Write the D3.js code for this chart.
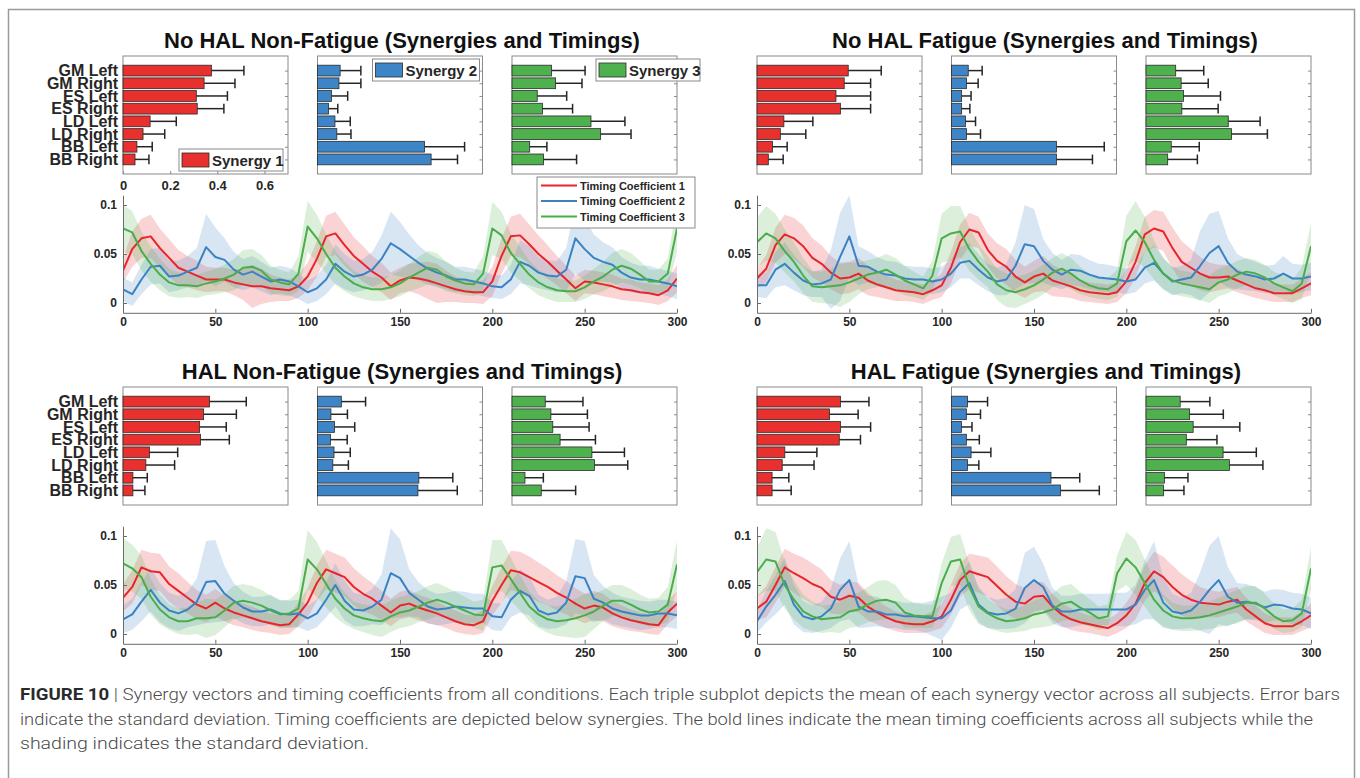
<!DOCTYPE html>
<html>
<head>
<meta charset="utf-8">
<script src="https://cdn.jsdelivr.net/npm/d3@7"></script>
<style>
  body { margin: 0; background: #fff; }
  svg { display: block; font-family: "Liberation Sans", Arial, sans-serif; }
</style>
</head>
<body>
<svg width="1360" height="778"></svg>
<script>
// ---- data ----
const muscles = ['GM Left', 'GM Right', 'ES Left', 'ES Right', 'LD Left', 'LD Right', 'BB Left', 'BB Right'];
const synergyNames = ['Synergy 1', 'Synergy 2', 'Synergy 3'];
const timingNames = ['Timing Coefficient 1', 'Timing Coefficient 2', 'Timing Coefficient 3'];
const barTicks = [0, 0.2, 0.4, 0.6];
const timeTicks = [0, 50, 100, 150, 200, 250, 300];
const coefTicks = [0, 0.05, 0.1];
const timeSteps = d3.range(0, 301, 5);

// synergy vectors, mean and sd, [synergy 1, 2, 3] x muscles
const synMeanNoHalNF = [
  [0.375, 0.344, 0.311, 0.315, 0.115, 0.085, 0.059, 0.051],
  [0.096, 0.091, 0.059, 0.047, 0.074, 0.082, 0.454, 0.482],
  [0.168, 0.185, 0.107, 0.129, 0.335, 0.376, 0.075, 0.134]
];
const synSdNoHalNF = [
  [0.138, 0.131, 0.132, 0.113, 0.111, 0.092, 0.065, 0.059],
  [0.088, 0.093, 0.069, 0.039, 0.065, 0.060, 0.170, 0.112],
  [0.142, 0.112, 0.125, 0.128, 0.144, 0.129, 0.073, 0.140]
];
const synMeanNoHalF = [
  [0.387, 0.370, 0.335, 0.354, 0.114, 0.099, 0.066, 0.048],
  [0.071, 0.064, 0.043, 0.043, 0.059, 0.064, 0.445, 0.445],
  [0.126, 0.149, 0.159, 0.152, 0.349, 0.363, 0.107, 0.092]
];
const synSdNoHalF = [
  [0.140, 0.112, 0.147, 0.128, 0.123, 0.108, 0.062, 0.063],
  [0.059, 0.049, 0.040, 0.035, 0.043, 0.059, 0.203, 0.153],
  [0.119, 0.115, 0.157, 0.154, 0.135, 0.152, 0.119, 0.126]
];
const synMeanHalNF = [
  [0.367, 0.342, 0.325, 0.329, 0.112, 0.097, 0.042, 0.042],
  [0.101, 0.057, 0.072, 0.055, 0.070, 0.065, 0.430, 0.426],
  [0.141, 0.165, 0.173, 0.204, 0.339, 0.350, 0.055, 0.124]
];
const synSdHalNF = [
  [0.156, 0.139, 0.113, 0.122, 0.120, 0.122, 0.061, 0.051],
  [0.103, 0.070, 0.086, 0.071, 0.069, 0.066, 0.144, 0.167],
  [0.160, 0.155, 0.154, 0.150, 0.138, 0.141, 0.078, 0.146]
];
const synMeanHalF = [
  [0.354, 0.308, 0.354, 0.349, 0.118, 0.107, 0.064, 0.064],
  [0.068, 0.063, 0.042, 0.063, 0.083, 0.068, 0.422, 0.462],
  [0.145, 0.185, 0.200, 0.171, 0.327, 0.354, 0.078, 0.074]
];
const synSdHalF = [
  [0.121, 0.121, 0.128, 0.090, 0.136, 0.135, 0.071, 0.081],
  [0.085, 0.060, 0.045, 0.055, 0.084, 0.048, 0.122, 0.165],
  [0.126, 0.143, 0.198, 0.130, 0.141, 0.142, 0.100, 0.087]
];

// timing coefficients every 5 samples (0..300), [coef 1, 2, 3]
const tcMeanNoHalNF = [
  [0.033,0.055,0.066,0.068,0.056,0.046,0.036,0.032,0.028,0.024,
   0.024,0.024,0.021,0.019,0.017,0.017,0.015,0.014,0.013,0.017,
   0.027,0.045,0.068,0.071,0.059,0.048,0.040,0.032,0.026,0.017,
   0.023,0.026,0.025,0.023,0.020,0.017,0.014,0.012,0.011,0.011,
   0.022,0.048,0.068,0.069,0.060,0.050,0.042,0.033,0.024,0.015,
   0.022,0.021,0.019,0.017,0.014,0.013,0.011,0.010,0.008,0.013,0.025],
  [0.014,0.009,0.024,0.037,0.038,0.027,0.028,0.032,0.036,0.057,
   0.047,0.044,0.034,0.029,0.032,0.027,0.022,0.024,0.022,0.017,
   0.011,0.015,0.024,0.040,0.032,0.027,0.029,0.034,0.045,0.061,
   0.055,0.048,0.041,0.035,0.031,0.028,0.024,0.024,0.022,0.020,
   0.017,0.016,0.024,0.042,0.038,0.031,0.028,0.027,0.034,0.066,
   0.055,0.046,0.042,0.039,0.031,0.026,0.024,0.024,0.022,0.020,0.017],
  [0.076,0.072,0.053,0.040,0.029,0.021,0.018,0.018,0.017,0.020,
   0.022,0.025,0.029,0.036,0.037,0.033,0.024,0.021,0.019,0.030,
   0.078,0.066,0.050,0.036,0.027,0.020,0.016,0.014,0.014,0.016,
   0.020,0.026,0.031,0.036,0.034,0.027,0.023,0.020,0.019,0.030,
   0.076,0.069,0.051,0.040,0.029,0.021,0.016,0.013,0.012,0.012,
   0.016,0.022,0.027,0.034,0.038,0.035,0.029,0.022,0.022,0.030,0.076]
];
const tcSdNoHalNF = [
  [0.012,0.018,0.020,0.022,0.020,0.019,0.018,0.016,0.015,0.013,
   0.012,0.012,0.013,0.016,0.022,0.018,0.014,0.012,0.011,0.012,
   0.014,0.018,0.021,0.022,0.021,0.019,0.018,0.016,0.015,0.014,
   0.013,0.014,0.016,0.019,0.020,0.016,0.013,0.012,0.011,0.012,
   0.015,0.018,0.020,0.022,0.020,0.019,0.017,0.015,0.014,0.013,
   0.012,0.012,0.012,0.012,0.011,0.011,0.010,0.010,0.010,0.011,0.014],
  [0.012,0.012,0.015,0.018,0.018,0.016,0.015,0.016,0.020,0.034,
   0.030,0.022,0.018,0.016,0.016,0.015,0.014,0.014,0.014,0.013,
   0.012,0.013,0.015,0.020,0.018,0.016,0.016,0.018,0.024,0.032,
   0.028,0.022,0.018,0.016,0.015,0.014,0.013,0.013,0.013,0.013,
   0.012,0.012,0.015,0.022,0.020,0.016,0.015,0.016,0.022,0.036,
   0.032,0.024,0.020,0.018,0.016,0.015,0.014,0.014,0.013,0.013,0.013],
  [0.024,0.022,0.020,0.018,0.016,0.014,0.013,0.012,0.012,0.012,
   0.013,0.014,0.016,0.018,0.018,0.016,0.014,0.013,0.012,0.018,
   0.026,0.024,0.020,0.017,0.015,0.013,0.012,0.012,0.012,0.012,
   0.013,0.014,0.016,0.017,0.017,0.015,0.013,0.012,0.012,0.018,
   0.027,0.024,0.020,0.017,0.014,0.013,0.012,0.012,0.011,0.011,
   0.012,0.013,0.015,0.017,0.017,0.016,0.014,0.012,0.012,0.016,0.024]
];
const tcMeanNoHalF = [
  [0.025,0.035,0.059,0.070,0.066,0.058,0.046,0.040,0.031,0.025,
   0.026,0.030,0.023,0.019,0.016,0.013,0.012,0.011,0.009,0.013,
   0.018,0.036,0.062,0.075,0.072,0.054,0.043,0.037,0.027,0.021,
   0.027,0.030,0.023,0.020,0.017,0.013,0.011,0.010,0.009,0.011,
   0.022,0.042,0.070,0.076,0.073,0.056,0.042,0.036,0.030,0.026,
   0.026,0.027,0.023,0.019,0.015,0.013,0.010,0.010,0.010,0.015,0.020],
  [0.018,0.018,0.034,0.040,0.031,0.023,0.019,0.020,0.024,0.047,
   0.068,0.038,0.037,0.032,0.029,0.028,0.025,0.024,0.024,0.022,
   0.024,0.030,0.041,0.043,0.034,0.026,0.022,0.024,0.038,0.060,
   0.058,0.043,0.034,0.029,0.034,0.033,0.029,0.026,0.025,0.024,
   0.022,0.024,0.036,0.041,0.030,0.022,0.024,0.026,0.038,0.051,
   0.058,0.041,0.032,0.029,0.027,0.024,0.025,0.030,0.025,0.025,0.027],
  [0.062,0.071,0.066,0.053,0.042,0.028,0.017,0.016,0.017,0.018,
   0.021,0.025,0.029,0.031,0.034,0.029,0.023,0.019,0.015,0.028,
   0.066,0.071,0.073,0.055,0.042,0.032,0.019,0.013,0.011,0.014,
   0.018,0.024,0.031,0.035,0.030,0.023,0.018,0.015,0.014,0.020,
   0.063,0.074,0.062,0.044,0.030,0.023,0.020,0.018,0.016,0.014,
   0.021,0.024,0.029,0.032,0.030,0.026,0.020,0.016,0.012,0.020,0.058]
];
const tcSdNoHalF = [
  [0.010,0.014,0.018,0.020,0.021,0.021,0.020,0.019,0.017,0.016,
   0.016,0.016,0.015,0.013,0.012,0.011,0.010,0.010,0.010,0.010,
   0.012,0.016,0.018,0.017,0.016,0.017,0.018,0.018,0.017,0.016,
   0.016,0.018,0.016,0.014,0.012,0.011,0.010,0.010,0.010,0.010,
   0.012,0.016,0.018,0.019,0.020,0.021,0.021,0.019,0.017,0.015,
   0.013,0.012,0.012,0.011,0.010,0.010,0.009,0.009,0.009,0.010,0.012],
  [0.012,0.013,0.018,0.022,0.018,0.015,0.013,0.014,0.030,0.045,
   0.042,0.020,0.016,0.015,0.014,0.014,0.013,0.013,0.013,0.013,
   0.013,0.014,0.016,0.018,0.016,0.014,0.014,0.016,0.024,0.040,
   0.038,0.022,0.017,0.015,0.016,0.016,0.015,0.014,0.014,0.013,
   0.013,0.013,0.016,0.018,0.016,0.014,0.014,0.018,0.036,0.040,
   0.036,0.025,0.018,0.016,0.015,0.014,0.014,0.018,0.015,0.014,0.014],
  [0.025,0.028,0.025,0.022,0.020,0.018,0.016,0.016,0.018,0.022,
   0.020,0.016,0.015,0.015,0.016,0.017,0.015,0.013,0.012,0.016,
   0.025,0.028,0.026,0.022,0.018,0.016,0.016,0.017,0.016,0.015,
   0.015,0.015,0.015,0.016,0.016,0.014,0.012,0.011,0.011,0.014,
   0.026,0.030,0.026,0.020,0.016,0.014,0.013,0.013,0.013,0.014,
   0.014,0.014,0.014,0.014,0.014,0.013,0.012,0.012,0.012,0.016,0.024]
];
const tcMeanHalNF = [
  [0.037,0.048,0.068,0.064,0.063,0.051,0.044,0.037,0.030,0.026,
   0.032,0.026,0.022,0.019,0.016,0.013,0.011,0.009,0.010,0.020,
   0.032,0.052,0.066,0.062,0.058,0.048,0.041,0.036,0.029,0.022,
   0.029,0.031,0.027,0.024,0.021,0.017,0.013,0.010,0.009,0.013,
   0.034,0.050,0.065,0.063,0.058,0.053,0.048,0.042,0.037,0.031,
   0.026,0.029,0.027,0.021,0.017,0.014,0.012,0.010,0.009,0.022,0.031],
  [0.015,0.020,0.033,0.045,0.032,0.024,0.021,0.025,0.033,0.053,
   0.054,0.041,0.034,0.027,0.023,0.023,0.025,0.021,0.020,0.021,
   0.016,0.021,0.035,0.050,0.034,0.025,0.024,0.028,0.035,0.062,
   0.057,0.042,0.035,0.028,0.025,0.026,0.028,0.027,0.026,0.026,
   0.018,0.017,0.035,0.044,0.039,0.024,0.020,0.022,0.032,0.059,
   0.057,0.036,0.032,0.026,0.023,0.021,0.019,0.019,0.021,0.021,0.019],
  [0.072,0.067,0.058,0.038,0.025,0.017,0.013,0.013,0.016,0.016,
   0.017,0.024,0.032,0.034,0.032,0.029,0.024,0.020,0.021,0.026,
   0.076,0.066,0.051,0.036,0.026,0.019,0.016,0.014,0.013,0.018,
   0.022,0.024,0.028,0.032,0.035,0.032,0.028,0.024,0.020,0.019,
   0.068,0.070,0.056,0.042,0.028,0.020,0.015,0.013,0.014,0.016,
   0.019,0.023,0.029,0.034,0.034,0.030,0.025,0.022,0.023,0.030,0.071]
];
const tcSdHalNF = [
  [0.014,0.017,0.018,0.019,0.019,0.018,0.018,0.016,0.015,0.014,
   0.014,0.013,0.013,0.012,0.012,0.011,0.010,0.010,0.010,0.012,
   0.015,0.018,0.020,0.020,0.020,0.019,0.018,0.016,0.015,0.014,
   0.014,0.014,0.013,0.013,0.012,0.011,0.011,0.010,0.010,0.012,
   0.015,0.018,0.020,0.021,0.021,0.020,0.019,0.018,0.017,0.016,
   0.015,0.015,0.014,0.013,0.012,0.011,0.010,0.010,0.010,0.012,0.013],
  [0.014,0.016,0.020,0.022,0.020,0.018,0.018,0.018,0.024,0.042,
   0.042,0.028,0.018,0.016,0.015,0.015,0.015,0.014,0.014,0.014,
   0.013,0.014,0.018,0.022,0.020,0.017,0.016,0.018,0.026,0.046,
   0.040,0.024,0.018,0.017,0.016,0.016,0.016,0.016,0.015,0.015,
   0.014,0.014,0.018,0.022,0.020,0.016,0.015,0.016,0.022,0.038,
   0.038,0.024,0.017,0.016,0.015,0.015,0.015,0.014,0.014,0.014,0.014],
  [0.026,0.024,0.022,0.018,0.015,0.013,0.013,0.014,0.016,0.020,
   0.018,0.017,0.017,0.017,0.017,0.016,0.015,0.014,0.014,0.018,
   0.030,0.028,0.024,0.019,0.016,0.014,0.014,0.015,0.016,0.016,
   0.016,0.016,0.016,0.017,0.017,0.016,0.015,0.014,0.013,0.016,
   0.028,0.026,0.022,0.018,0.015,0.014,0.014,0.015,0.017,0.020,
   0.022,0.018,0.016,0.016,0.016,0.016,0.015,0.014,0.014,0.018,0.025]
];
const tcMeanHalF = [
  [0.026,0.033,0.050,0.068,0.062,0.057,0.051,0.047,0.038,0.035,
   0.039,0.037,0.028,0.022,0.017,0.013,0.011,0.010,0.010,0.013,
   0.018,0.035,0.055,0.064,0.061,0.058,0.049,0.040,0.033,0.031,
   0.038,0.039,0.028,0.020,0.015,0.012,0.010,0.008,0.006,0.011,
   0.019,0.031,0.052,0.064,0.058,0.048,0.040,0.035,0.032,0.031,
   0.030,0.033,0.035,0.025,0.018,0.011,0.008,0.008,0.008,0.013,0.019],
  [0.013,0.028,0.040,0.054,0.030,0.018,0.015,0.018,0.026,0.045,
   0.055,0.028,0.023,0.023,0.020,0.020,0.018,0.018,0.017,0.016,
   0.016,0.024,0.043,0.052,0.030,0.022,0.020,0.021,0.026,0.047,
   0.055,0.048,0.029,0.023,0.023,0.025,0.025,0.025,0.025,0.025,
   0.025,0.030,0.045,0.055,0.032,0.023,0.021,0.024,0.033,0.045,
   0.055,0.038,0.032,0.033,0.031,0.027,0.030,0.029,0.026,0.025,0.021],
  [0.063,0.076,0.074,0.050,0.035,0.023,0.018,0.015,0.016,0.017,
   0.023,0.025,0.030,0.034,0.035,0.032,0.022,0.019,0.018,0.018,
   0.052,0.074,0.076,0.048,0.028,0.021,0.016,0.013,0.014,0.016,
   0.020,0.022,0.025,0.031,0.033,0.027,0.022,0.016,0.018,0.062,
   0.077,0.068,0.052,0.035,0.024,0.018,0.016,0.016,0.017,0.019,
   0.022,0.025,0.028,0.032,0.032,0.026,0.018,0.013,0.014,0.021,0.067]
];
const tcSdHalF = [
  [0.012,0.016,0.018,0.019,0.020,0.021,0.021,0.019,0.017,0.015,
   0.015,0.015,0.014,0.012,0.011,0.010,0.010,0.009,0.009,0.010,
   0.012,0.015,0.017,0.018,0.019,0.020,0.020,0.019,0.018,0.016,
   0.015,0.014,0.013,0.012,0.011,0.010,0.009,0.009,0.009,0.010,
   0.013,0.016,0.018,0.020,0.021,0.022,0.021,0.019,0.016,0.014,
   0.013,0.013,0.013,0.012,0.011,0.010,0.009,0.009,0.009,0.010,0.012],
  [0.012,0.016,0.020,0.024,0.020,0.016,0.014,0.015,0.020,0.032,
   0.040,0.022,0.016,0.015,0.014,0.014,0.014,0.014,0.015,0.018,
   0.022,0.018,0.018,0.022,0.018,0.016,0.015,0.016,0.020,0.036,
   0.034,0.024,0.018,0.016,0.016,0.016,0.016,0.016,0.016,0.017,
   0.017,0.020,0.030,0.040,0.026,0.018,0.016,0.018,0.030,0.045,
   0.045,0.030,0.020,0.018,0.017,0.016,0.016,0.016,0.016,0.016,0.016],
  [0.025,0.032,0.030,0.024,0.020,0.017,0.015,0.014,0.014,0.016,
   0.017,0.017,0.018,0.020,0.020,0.018,0.015,0.013,0.012,0.012,
   0.020,0.025,0.026,0.024,0.018,0.015,0.013,0.012,0.012,0.013,
   0.014,0.015,0.016,0.018,0.018,0.016,0.014,0.012,0.012,0.018,
   0.027,0.028,0.024,0.020,0.016,0.014,0.013,0.013,0.013,0.014,
   0.015,0.016,0.017,0.017,0.017,0.015,0.013,0.012,0.012,0.014,0.022]
];

const captionLines = [
  'Synergy vectors and timing coefficients from all conditions. Each triple subplot depicts the mean of each synergy vector across all subjects. Error bars',
  'indicate the standard deviation. Timing coefficients are depicted below synergies. The bold lines indicate the mean timing coefficients across all subjects while the',
  'shading indicates the standard deviation.'
];

// ---- style / layout ----
const barColors = ['#e8302f', '#3d85c6', '#4fb04e'];
const lineColors = ['#e8262a', '#3a82c4', '#4bad4a'];
const axisGray = '#6b6b6b';
const textDark = '#262626';

const panels = [
  { title: 'No HAL Non-Fatigue (Synergies and Timings)', x0: 123, top: 56, zeroY: 303, titleX: 402,
    mean: synMeanNoHalNF, sd: synSdNoHalNF, tMean: tcMeanNoHalNF, tSd: tcSdNoHalNF, labels: true, legends: true },
  { title: 'No HAL Fatigue (Synergies and Timings)', x0: 757, top: 56, zeroY: 303, titleX: 1045,
    mean: synMeanNoHalF, sd: synSdNoHalF, tMean: tcMeanNoHalF, tSd: tcSdNoHalF, labels: false, legends: false },
  { title: 'HAL Non-Fatigue (Synergies and Timings)', x0: 123, top: 387, zeroY: 634, titleX: 402,
    mean: synMeanHalNF, sd: synSdHalNF, tMean: tcMeanHalNF, tSd: tcSdHalNF, labels: true, legends: false },
  { title: 'HAL Fatigue (Synergies and Timings)', x0: 757, top: 387, zeroY: 634, titleX: 1046,
    mean: synMeanHalF, sd: synSdHalF, tMean: tcMeanHalF, tSd: tcSdHalF, labels: false, legends: false }
];

const boxW = 165, boxH = 118, boxStep = 194.5, timeW = 554;

const svg = d3.select('svg');
svg.append('rect').attr('width', 1360).attr('height', 778).attr('fill', '#fff');
svg.append('rect')
   .attr('x', 8.5).attr('y', 9.5).attr('width', 1346).attr('height', 800)
   .attr('fill', 'none').attr('stroke', '#9a9a9a').attr('stroke-width', 1.5);

const defs = svg.append('defs');

panels.forEach((p, pi) => {
  const g = svg.append('g');

  // title
  g.append('text')
   .attr('x', p.titleX).attr('y', p.top - 8)
   .attr('text-anchor', 'middle')
   .attr('font-size', 22).attr('font-weight', 'bold').attr('fill', '#111')
   .text(p.title);

  const y = d3.scalePoint().domain(muscles).range([p.top, p.top + boxH]).padding(1.15);
  const bh = y.step() * 0.85;

  p.mean.forEach((vals, k) => {
    const bx = p.x0 + k * boxStep;
    const x = d3.scaleLinear().domain([0, 0.7]).range([bx, bx + boxW]);
    const bg = g.append('g');

    bg.append('rect')
      .attr('x', bx).attr('y', p.top).attr('width', boxW).attr('height', boxH)
      .attr('fill', '#fff').attr('stroke', '#8a8a8a').attr('stroke-width', 1);

    bg.selectAll('rect.bar').data(muscles).join('rect')
      .attr('class', 'bar')
      .attr('x', x(0))
      .attr('y', m => y(m) - bh / 2)
      .attr('width', (m, j) => x(vals[j]) - x(0))
      .attr('height', bh)
      .attr('fill', barColors[k])
      .attr('stroke', '#2b2b2b').attr('stroke-width', 0.8);

    // error bars
    const err = bg.selectAll('g.err').data(muscles).join('g').attr('class', 'err')
      .attr('stroke', '#262626').attr('stroke-width', 1.5);
    err.append('line')
      .attr('x1', (m, j) => x(vals[j])).attr('x2', (m, j) => x(vals[j] + p.sd[k][j]))
      .attr('y1', m => y(m)).attr('y2', m => y(m));
    err.append('line')
      .attr('x1', (m, j) => x(vals[j] + p.sd[k][j])).attr('x2', (m, j) => x(vals[j] + p.sd[k][j]))
      .attr('y1', m => y(m) - bh * 0.45).attr('y2', m => y(m) + bh * 0.45);

    // small inner ticks on the right edge
    bg.append('g').attr('transform', `translate(${bx + boxW},0)`)
      .call(d3.axisRight(y).tickSize(-3).tickFormat(''))
      .call(a => a.select('.domain').remove())
      .selectAll('line').attr('stroke', '#8a8a8a');

    if (p.labels && k === 0) {
      bg.append('g').attr('transform', `translate(${bx},0)`)
        .call(d3.axisLeft(y).tickSize(0).tickPadding(5))
        .call(a => a.select('.domain').remove())
        .selectAll('text')
        .attr('font-size', 16).attr('font-weight', 'bold').attr('fill', textDark)
        .attr('font-family', '"Liberation Sans", Arial, sans-serif');
    }

    if (pi === 0 && k === 0) {
      bg.append('g').attr('transform', `translate(0,${p.top + boxH})`)
        .call(d3.axisBottom(x).tickValues(barTicks)
          .tickFormat(d => d === 0 ? '0' : d3.format('.1f')(d))
          .tickSizeInner(-3).tickSizeOuter(0).tickPadding(7))
        .call(a => a.select('.domain').remove())
        .call(a => a.selectAll('line').attr('stroke', '#8a8a8a'))
        .selectAll('text')
        .attr('font-size', 13).attr('font-weight', 'bold').attr('fill', textDark)
        .attr('font-family', '"Liberation Sans", Arial, sans-serif');
    }

    if (p.legends) {
      const legPos = [[56, 93, 104], [55, 3, 107], [84, 3, 104]][k];
      const lg = bg.append('g').attr('transform', `translate(${bx + legPos[0]},${p.top + legPos[1]})`);
      lg.append('rect').attr('width', legPos[2]).attr('height', 22)
        .attr('fill', '#fff').attr('stroke', '#8a8a8a');
      lg.append('rect').attr('x', 3).attr('y', 4).attr('width', 27).attr('height', 14)
        .attr('fill', barColors[k]).attr('stroke', '#2b2b2b').attr('stroke-width', 0.8);
      lg.append('text').attr('x', 33).attr('y', 16.5)
        .attr('font-size', 15).attr('font-weight', 'bold').attr('fill', textDark)
        .text(synergyNames[k]);
    }
  });

  // timing coefficients
  const tx = d3.scaleLinear().domain([0, 300]).range([p.x0, p.x0 + timeW]);
  const ty = d3.scaleLinear().domain([-0.01, 0.11]).range([p.zeroY + 9.8, p.zeroY - 107.8]);

  const clipId = 'clip' + pi;
  defs.append('clipPath').attr('id', clipId).append('rect')
    .attr('x', tx(0)).attr('y', ty(0.11)).attr('width', timeW).attr('height', ty(-0.01) - ty(0.11));

  const tg = g.append('g').attr('clip-path', `url(#${clipId})`);

  p.tMean.forEach((series, k) => {
    const area = d3.area()
      .x((d, i) => tx(timeSteps[i]))
      .y0((d, i) => ty(d - p.tSd[k][i]))
      .y1((d, i) => ty(d + p.tSd[k][i]));
    tg.append('path').datum(series)
      .attr('d', area)
      .attr('fill', lineColors[k]).attr('fill-opacity', 0.2);
  });
  p.tMean.forEach((series, k) => {
    const line = d3.line().x((d, i) => tx(timeSteps[i])).y(d => ty(d));
    tg.append('path').datum(series)
      .attr('d', line)
      .attr('fill', 'none').attr('stroke', lineColors[k]).attr('stroke-width', 2)
      .attr('stroke-linejoin', 'round');
  });

  const styleAxis = a => {
    a.select('.domain').attr('stroke', axisGray);
    a.selectAll('line').attr('stroke', axisGray);
    a.selectAll('text')
     .attr('font-size', 12).attr('font-weight', 'bold').attr('fill', textDark)
     .attr('font-family', '"Liberation Sans", Arial, sans-serif');
  };

  g.append('g').attr('transform', `translate(0,${ty(-0.01)})`)
   .call(d3.axisBottom(tx).tickValues(timeTicks).tickSizeInner(-4).tickSizeOuter(0).tickPadding(5))
   .call(styleAxis);
  g.append('g').attr('transform', `translate(${tx(0)},0)`)
   .call(d3.axisLeft(ty).tickValues(coefTicks).tickFormat(d => d === 0 ? '0' : String(d))
     .tickSizeInner(-4).tickSizeOuter(0).tickPadding(6))
   .call(styleAxis);

  if (p.legends) {
    const lg = g.append('g').attr('transform', `translate(${p.x0 + 414},${p.zeroY - 126})`);
    lg.append('rect').attr('width', 158).attr('height', 51)
      .attr('fill', '#fff').attr('stroke', '#8a8a8a');
    timingNames.forEach((name, k) => {
      const yy = 8.5 + k * 15.5;
      lg.append('line').attr('x1', 4).attr('x2', 40).attr('y1', yy).attr('y2', yy)
        .attr('stroke', lineColors[k]).attr('stroke-width', 2);
      lg.append('text').attr('x', 43).attr('y', yy + 4)
        .attr('font-size', 11).attr('font-weight', 'bold').attr('fill', textDark)
        .text(name);
    });
  }
});

// caption
const caption = svg.append('g')
  .attr('font-family', 'Roboto, "Liberation Sans", Arial, sans-serif')
  .attr('font-size', 16).attr('font-weight', 300).attr('fill', '#4a4a4a');
const capWidths = [1320, 1293, 349];
captionLines.forEach((txt, i) => {
  const t = caption.append('text')
    .attr('x', 20).attr('y', 700 + i * 24.5)
    .attr('textLength', capWidths[i]).attr('lengthAdjust', 'spacingAndGlyphs');
  if (i === 0) {
    t.append('tspan').attr('font-weight', 'bold').attr('fill', '#2a2a2a').text('FIGURE 10');
    t.append('tspan').text(' | ' + txt);
  } else {
    t.text(txt);
  }
});
</script>
</body>
</html>
